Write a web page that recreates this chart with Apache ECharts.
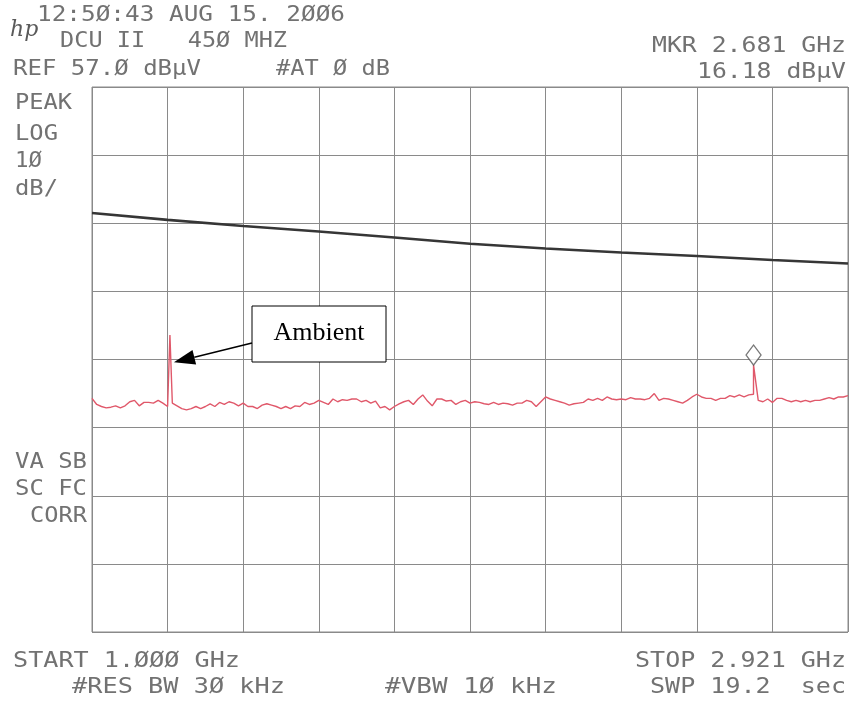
<!DOCTYPE html>
<html>
<head>
<meta charset="utf-8">
<title>DCU II 450 MHZ – 1.000–2.921 GHz sweep</title>
<script src="https://cdn.jsdelivr.net/npm/echarts@6/dist/echarts.min.js"></script>
<style>
  html, body { margin: 0; padding: 0; background: #ffffff; }
  #chart { width: 854px; height: 706px; }
</style>
</head>
<body>
<div id="chart"></div>
<script>
// ---- Sweep settings ----
const startGHz = 1.000;
const stopGHz = 2.921;
const refLevel = 57.0;      // dBµV at top graticule line
const dbPerDiv = 10;
const xDivisions = 10;
const yDivisions = 8;

// ---- Limit line (dBµV) read at each vertical graticule line ----
const limitFreqs = [1.0000, 1.1921, 1.3842, 1.5763, 1.7684, 1.9605, 2.1526, 2.3447, 2.5368, 2.7289, 2.9210];
const limitLevels = [38.5, 37.5, 36.6, 35.8, 34.9, 34.0, 33.3, 32.7, 32.2, 31.6, 31.1];

// ---- Measured trace: 161 sweep points from start to stop (dBµV) ----
const traceLevels = [
  11.3, 10.4, 10.1, 9.9, 10.0, 10.2, 9.9, 10.2, 10.8, 11.0,
  10.2, 10.7, 10.7, 10.6, 11.0, 10.6, 10.1, 10.6, 10.2, 9.8,
  9.6, 9.8, 10.1, 9.8, 10.1, 10.5, 10.1, 10.7, 10.4, 10.8,
  10.6, 10.2, 10.6, 10.1, 10.1, 9.8, 10.3, 10.5, 10.3, 10.1,
  9.8, 10.1, 9.8, 10.2, 10.1, 10.7, 10.4, 10.6, 11.0, 10.7,
  10.4, 11.2, 10.8, 11.1,
  11.0, 11.2, 11.2, 10.8, 11.0, 10.6, 10.9, 9.9, 10.1, 9.6,
  10.1, 10.5, 10.8, 11.0, 10.4, 11.2, 11.8, 10.9, 10.2, 11.2,
  11.2, 10.9, 11.0, 10.4, 10.8, 11.0, 10.6, 10.8, 10.7, 10.5,
  10.4, 10.7, 10.4, 10.6, 10.5, 10.3, 10.6, 10.6, 11.0, 10.8,
  10.1, 10.8, 11.5, 11.2, 11.0, 10.8, 10.6, 10.3, 10.5, 10.6,
  10.7, 11.2, 11.0,
  11.3, 11.0, 11.5, 11.2, 11.1, 11.2, 11.1, 11.4, 11.2, 11.2,
  11.1, 11.3, 12.0, 11.0, 11.3, 11.2, 11.0, 10.8, 10.6, 11.0,
  11.5, 11.9, 11.5, 11.3, 11.3, 11.0, 11.3, 11.3, 11.7, 11.5,
  11.8, 11.5, 11.8, 11.9, 11.0, 10.8, 11.2, 10.7, 11.3, 11.3,
  11.0, 10.8, 11.0, 10.8, 11.0, 10.8, 11.0, 11.0, 11.2, 11.4,
  11.2, 11.5, 11.5, 11.7
];

// ---- Narrow signals on the trace (GHz, dBµV) ----
const spikeFreqs = [1.198, 2.681];
const spikeLevels = [20.6, 16.18];

// ---- Marker ----
const markerFreq = 2.681;
const markerLevel = 16.18;

// ---- Annotation ----
const ambientLabel = 'Ambient';
const ambientArrowLevel = 16.6;   // where the arrow meets the ambient spike

// ---- Instrument annotations ----
const headerLines = [
  '12:5Ø:43 AUG 15. 2ØØ6',
  'DCU II   45Ø MHZ',
  'REF 57.Ø dBµV',
  '#AT Ø dB',
  'MKR 2.681 GHz',
  '16.18 dBµV'
];
const sideLines = ['PEAK', 'LOG', '1Ø', 'dB/', 'VA SB', 'SC FC', 'CORR'];
const footerLines = ['START 1.ØØØ GHz', '#RES BW 3Ø kHz', '#VBW 1Ø kHz', 'STOP 2.921 GHz', 'SWP 19.2  sec'];

// ---------------------------------------------------------------
const chartDom = document.getElementById('chart');
const chart = echarts.init(chartDom, null, { renderer: 'canvas' });

const plot = { left: 92, top: 87, width: 756, height: 545 };
const textFont = '"DejaVu Sans Mono", monospace';
const textSize = 21;
const textColor = '#727272';

// sweep points + narrow signals, sorted by frequency
const step = (stopGHz - startGHz) / (traceLevels.length - 1);
const tracePoints = traceLevels.map((v, i) => [startGHz + i * step, v]);
spikeFreqs.forEach((f, k) => tracePoints.push([f, spikeLevels[k]]));
tracePoints.sort((a, b) => a[0] - b[0]);

const limitPoints = limitFreqs.map((f, i) => [f, limitLevels[i]]);

// measure monospace text so each annotation spans its slot width
const measureCtx = document.createElement('canvas').getContext('2d');
function textWidth(str, size) {
  measureCtx.font = size + 'px ' + textFont;
  return measureCtx.measureText(str).width;
}
function plotterText(str, left, right, cy) {
  const w = textWidth(str, textSize);
  return {
    type: 'text',
    x: left,
    y: cy,
    scaleX: (right - left) / w,
    silent: true,
    style: {
      text: str,
      font: textSize + 'px ' + textFont,
      fill: textColor,
      align: 'left',
      verticalAlign: 'middle',
      textAlign: 'left',
      textVerticalAlign: 'middle'
    }
  };
}

const textGraphics = [
  plotterText(headerLines[0], 37, 345, 16),
  plotterText(headerLines[1], 60, 287, 42),
  plotterText(headerLines[2], 13, 201, 70),
  plotterText(headerLines[3], 276, 390, 70),
  plotterText(headerLines[4], 652, 846, 47),
  plotterText(headerLines[5], 697, 846, 73),
  plotterText(sideLines[0], 15, 72, 104),
  plotterText(sideLines[1], 15, 58, 135),
  plotterText(sideLines[2], 15, 42, 162),
  plotterText(sideLines[3], 15, 58, 190),
  plotterText(sideLines[4], 15, 87, 463),
  plotterText(sideLines[5], 15, 87, 490),
  plotterText(sideLines[6], 30, 87, 517),
  plotterText(footerLines[0], 13, 240, 662),
  plotterText(footerLines[1], 72, 285, 688),
  plotterText(footerLines[2], 385, 557, 688),
  plotterText(footerLines[3], 635, 846, 662),
  plotterText(footerLines[4], 650, 846, 688),
  // instrument logo
  {
    type: 'text', x: 10, y: 30, silent: true,
    style: {
      text: 'hp', font: 'italic 22px "DejaVu Serif", serif', fill: '#5a5a5a',
      align: 'left', verticalAlign: 'middle', textAlign: 'left', textVerticalAlign: 'middle'
    }
  }
];

const option = {
  backgroundColor: '#ffffff',
  animation: false,
  grid: {
    left: plot.left, top: plot.top, width: plot.width, height: plot.height,
    show: true, borderColor: '#8a8a8a', borderWidth: 1, backgroundColor: 'transparent'
  },
  xAxis: [
    { type: 'value', min: startGHz, max: stopGHz, show: false },
    {
      type: 'value', min: 0, max: xDivisions, interval: 1,
      axisLine: { show: false }, axisTick: { show: false }, axisLabel: { show: false },
      splitLine: { show: true, lineStyle: { color: '#8a8a8a', width: 1 } }
    }
  ],
  yAxis: [
    { type: 'value', min: refLevel - dbPerDiv * yDivisions, max: refLevel, show: false },
    {
      type: 'value', min: 0, max: yDivisions, interval: 1,
      axisLine: { show: false }, axisTick: { show: false }, axisLabel: { show: false },
      splitLine: { show: true, lineStyle: { color: '#8a8a8a', width: 1 } }
    }
  ],
  series: [
    {
      name: 'Limit',
      type: 'line',
      xAxisIndex: 0, yAxisIndex: 0,
      data: limitPoints,
      symbol: 'none',
      lineStyle: { color: '#363636', width: 2.6 },
      z: 3
    },
    {
      name: 'Trace',
      type: 'line',
      xAxisIndex: 0, yAxisIndex: 0,
      data: tracePoints,
      symbol: 'none',
      lineStyle: { color: '#e0586a', width: 1.4 },
      z: 4
    },
    {
      name: 'Marker',
      type: 'scatter',
      xAxisIndex: 0, yAxisIndex: 0,
      data: [[markerFreq, markerLevel]],
      symbol: 'diamond',
      symbolSize: [15, 20],
      symbolOffset: [0, -10],
      itemStyle: { color: '#ffffff', borderColor: '#555555', borderWidth: 1.3 },
      z: 5
    }
  ],
  graphic: textGraphics
};

chart.setOption(option);

// Ambient callout: box plus arrow ending on the ambient spike
const spikePx = chart.convertToPixel({ xAxisIndex: 0, yAxisIndex: 0 }, [spikeFreqs[0], ambientArrowLevel]);
const tip = [spikePx[0] + 4, spikePx[1]];
const box = { x: 252, y: 306, w: 134, h: 56 };
const tail = [box.x, 343];
const dx = tip[0] - tail[0], dy = tip[1] - tail[1];
const len = Math.sqrt(dx * dx + dy * dy);
const ux = dx / len, uy = dy / len;
const headLen = 21, headHalf = 7.5;
const base = [tip[0] - ux * headLen, tip[1] - uy * headLen];
const nx = -uy * headHalf, ny = ux * headHalf;

chart.setOption({
  graphic: textGraphics.concat([
    {
      type: 'rect', silent: true, z: 10,
      shape: { x: box.x, y: box.y, width: box.w, height: box.h },
      style: { fill: '#ffffff', stroke: '#000000', lineWidth: 1 }
    },
    {
      type: 'text', silent: true, z: 11,
      x: box.x + box.w / 2, y: box.y + box.h / 2 - 1,
      style: {
        text: ambientLabel, font: '26px "Liberation Serif", "Times New Roman", serif', fill: '#000000',
        align: 'center', verticalAlign: 'middle', textAlign: 'center', textVerticalAlign: 'middle'
      }
    },
    {
      type: 'line', silent: true, z: 10,
      shape: { x1: tail[0], y1: tail[1], x2: base[0], y2: base[1] },
      style: { stroke: '#000000', lineWidth: 1.5 }
    },
    {
      type: 'polygon', silent: true, z: 10,
      shape: { points: [tip, [base[0] + nx, base[1] + ny], [base[0] - nx, base[1] - ny]] },
      style: { fill: '#000000' }
    }
  ])
}, { replaceMerge: ['graphic'] });
</script>
</body>
</html>
